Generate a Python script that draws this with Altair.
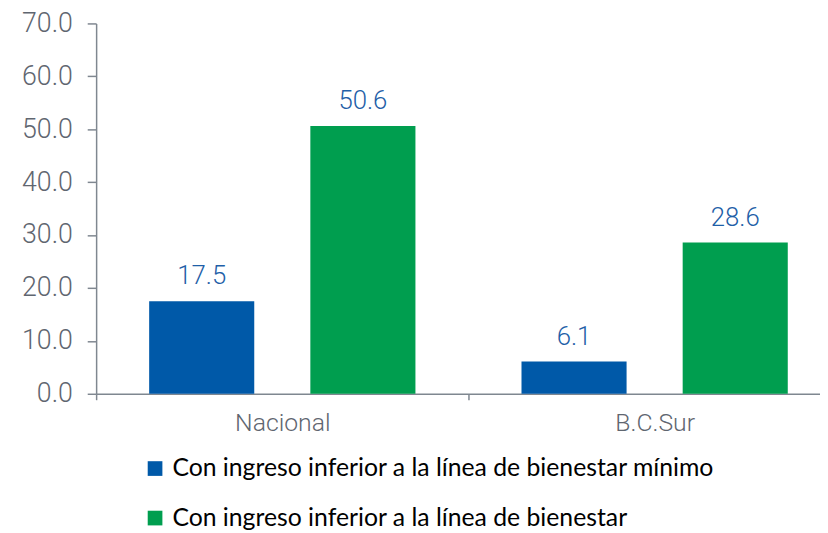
import altair as alt
import pandas as pd

regions = ["Nacional", "B.C.Sur"]
series = ["Con ingreso inferior a la línea de bienestar mínimo",
          "Con ingreso inferior a la línea de bienestar"]
minimo = [17.5, 6.1]
bienestar = [50.6, 28.6]

rows = []
for i, r in enumerate(regions):
    rows.append({"region": r, "serie": series[0], "valor": minimo[i]})
    rows.append({"region": r, "serie": series[1], "valor": bienestar[i]})
df = pd.DataFrame(rows)

colors = ["#0059A8", "#009E4F"]
axis_color = "#7F8790"
label_color = "#5F6670"
num_font = "Roboto"

x = alt.X("region:N", sort=regions, title=None,
          scale=alt.Scale(range=[0, 752], paddingInner=0, paddingOuter=0),
          axis=alt.Axis(labelAngle=0, labelFont=num_font, labelFontWeight=300,
                        labelFontSize=25, labelColor=label_color, labelPadding=11,
                        domainColor=axis_color, domainWidth=1.5, tickColor=axis_color,
                        tickWidth=1.5, tickSize=6, tickBand="extent", grid=False))
xo = alt.XOffset("serie:N", sort=series,
                 scale=alt.Scale(paddingInner=0.348, paddingOuter=0.329))
y = alt.Y("valor:Q", title=None,
          scale=alt.Scale(domain=[0, 70], nice=False),
          axis=alt.Axis(values=[0, 10, 20, 30, 40, 50, 60, 70], format=".1f",
                        labelFont=num_font, labelFontWeight=300, labelFontSize=27,
                        labelColor=label_color, labelPadding=15,
                        domainColor=axis_color, domainWidth=1.5, tickColor=axis_color,
                        tickWidth=1.5, tickSize=9, grid=False))

bars = alt.Chart(df).mark_bar().encode(
    x=x, xOffset=xo, y=y,
    color=alt.Color("serie:N", sort=series,
                    scale=alt.Scale(domain=series, range=colors),
                    legend=alt.Legend(title=None, orient="none", legendX=47, legendY=437,
                                      symbolType="square", symbolSize=220,
                                      symbolStrokeWidth=0, symbolOpacity=1,
                                      labelFont="Lato", labelFontSize=25,
                                      labelColor="#000000", labelLimit=800,
                                      rowPadding=24, labelOffset=5)),
)

text = alt.Chart(df).mark_text(dy=-12, baseline="bottom", font=num_font,
                               fontWeight=300, fontSize=26, color="#1F5FA8").encode(
    x=alt.X("region:N", sort=regions), xOffset=alt.XOffset("serie:N", sort=series),
    y="valor:Q", text=alt.Text("valor:Q", format=".1f"))

chart = (bars + text).properties(
    width=731, height=374,
    autosize=alt.AutoSizeParams(type="none"),
    padding={"left": 89, "top": 13, "right": 0, "bottom": 138},
).configure_view(stroke=None)

chart.save("out.html", embed_options={"renderer": "svg", "actions": False})
